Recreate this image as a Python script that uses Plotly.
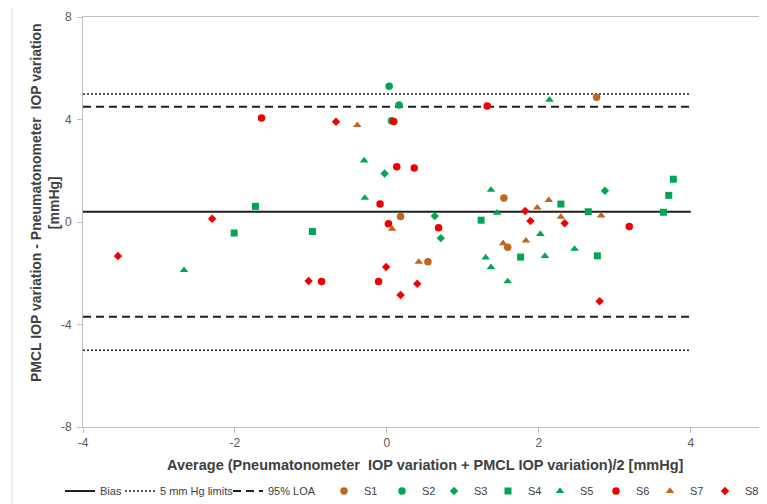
import plotly.graph_objects as go

# ---------------- data ----------------
s1_x = [0.18, 2.76, 1.54, 1.59, 0.54]
s1_y = [0.21, 4.87, 0.94, -0.99, -1.55]

s2_x = [0.03, 0.16, 0.06]
s2_y = [5.30, 4.57, 3.95]

s3_x = [-0.03, 0.63, 0.71, 2.87]
s3_y = [1.89, 0.23, -0.63, 1.22]

s4_x = [-1.73, -2.01, -0.98, 1.24, 2.29, 2.65, 3.64, 3.71, 3.77, 1.76, 2.77]
s4_y = [0.61, -0.43, -0.37, 0.07, 0.70, 0.40, 0.38, 1.04, 1.67, -1.37, -1.32]

s5_x = [-2.67, -0.30, -0.29, 1.37, 1.45, 2.14, 2.02, 1.30, 1.37, 2.08, 2.47, 1.59]
s5_y = [-1.88, 2.40, 0.94, 1.25, 0.36, 4.77, -0.47, -1.39, -1.77, -1.33, -1.05, -2.32]

s6_x = [-1.65, 0.09, 1.32, 0.13, 0.36, -0.09, 0.02, 0.68, 3.19, -0.86, -0.11]
s6_y = [4.06, 3.92, 4.53, 2.16, 2.11, 0.70, -0.07, -0.22, -0.18, -2.32, -2.32]

s7_x = [-0.39, 0.07, 2.13, 1.98, 2.82, 2.29, 1.53, 1.83, 0.42]
s7_y = [3.78, -0.27, 0.85, 0.56, 0.25, 0.20, -0.83, -0.73, -1.56]

s8_x = [-0.67, 1.82, 1.89, 2.34, 2.80, -2.30, -3.54, -1.03, -0.01, 0.40, 0.18]
s8_y = [3.91, 0.43, 0.04, -0.05, -3.09, 0.13, -1.33, -2.30, -1.76, -2.41, -2.85]

bias = 0.4
loa_upper = 4.5
loa_lower = -3.7
limit_upper = 5
limit_lower = -5
line_x = [-4, 4]

x_ticks = [-4, -2, 0, 2, 4]
y_ticks = [-8, -4, 0, 4, 8]

BROWN = "#C0651E"
GREEN = "#00A651"
RED = "#F00000"
INK = "#1F1F1F"
FONT = "Liberation Sans, Arial, sans-serif"

series = [
    ("S1", s1_x, s1_y, "circle", BROWN, 7.5),
    ("S2", s2_x, s2_y, "circle", GREEN, 7.5),
    ("S3", s3_x, s3_y, "diamond", GREEN, 6.5),
    ("S4", s4_x, s4_y, "square", GREEN, 7),
    ("S5", s5_x, s5_y, "triangle-up", GREEN, 7.5),
    ("S6", s6_x, s6_y, "circle", RED, 7.5),
    ("S7", s7_x, s7_y, "triangle-up", BROWN, 7.5),
    ("S8", s8_x, s8_y, "diamond", RED, 6.5),
]

# page body margin shifts the figure by this many pixels
OFF = 8
W, H = 767, 504
# target plot area in screen pixels
SL, SR, ST, SB = 83, 766, 17, 427
L = SL - OFF
R = W - (SR - OFF)
T = ST - OFF
B = H - (SB - OFF)
PW = W - L - R
PH = H - T - B


def px_x(p):
    """screen x pixel -> paper coordinate"""
    return (p - OFF - L) / PW


def px_y(p):
    """screen y pixel -> paper coordinate"""
    return (H - B - (p - OFF)) / PH


LEG_Y = px_y(491)
# screen left edges of each legend entry
legend_left_px = [60, 120, 228, 324, 382, 434, 488, 540, 596, 650, 705]

fig = go.Figure()

fig.add_trace(go.Scatter(x=line_x, y=[bias, bias], mode="lines", name="Bias",
                         legend="legend", line=dict(color=INK, width=2)))
fig.add_trace(go.Scatter(x=line_x, y=[limit_upper, limit_upper], mode="lines",
                         name="5 mm Hg limits", legend="legend2",
                         line=dict(color=INK, width=1.5, dash="2px,2px")))
fig.add_trace(go.Scatter(x=line_x, y=[limit_lower, limit_lower], mode="lines",
                         name="5 mm Hg limits", showlegend=False, legend="legend2",
                         line=dict(color=INK, width=1.5, dash="2px,2px")))
fig.add_trace(go.Scatter(x=line_x, y=[loa_upper, loa_upper], mode="lines",
                         name="95% LOA", legend="legend3",
                         line=dict(color=INK, width=2, dash="8px,5px")))
fig.add_trace(go.Scatter(x=line_x, y=[loa_lower, loa_lower], mode="lines",
                         name="95% LOA", showlegend=False, legend="legend3",
                         line=dict(color=INK, width=2, dash="8px,5px")))

for i, (name, xs, ys, sym, col, sz) in enumerate(series):
    fig.add_trace(go.Scatter(x=xs, y=ys, mode="markers", name=name,
                             legend="legend%d" % (i + 4),
                             marker=dict(symbol=sym, color=col, size=sz,
                                         line=dict(width=0))))

legend_layouts = {}
for i, lp in enumerate(legend_left_px):
    key = "legend" if i == 0 else "legend%d" % (i + 1)
    legend_layouts[key] = dict(orientation="h", x=px_x(lp), xanchor="left",
                               y=LEG_Y, yanchor="middle",
                               font=dict(size=11, color="#404040", family=FONT),
                               itemwidth=30, bgcolor="rgba(0,0,0,0)", borderwidth=0)

fig.update_layout(
    width=W, height=H,
    margin=dict(l=L, r=R, t=T, b=B, autoexpand=False),
    paper_bgcolor="white", plot_bgcolor="white",
    font=dict(family=FONT, size=12, color="#595959"),
    showlegend=True,
    hovermode=False,
    xaxis=dict(range=[-4, 4.99], tickvals=x_ticks, ticktext=[str(v) for v in x_ticks],
               showgrid=False, zeroline=False, showline=True, linecolor="#BFBFBF",
               linewidth=1, mirror=True, ticks="outside", ticklen=5, tickcolor="#BFBFBF",
               tickfont=dict(size=12, color="#595959")),
    yaxis=dict(range=[-8, 8], tickvals=y_ticks, ticktext=[str(v) for v in y_ticks],
               showgrid=False, zeroline=False, showline=True, linecolor="#BFBFBF",
               linewidth=1, ticks="outside", ticklen=5, tickcolor="#BFBFBF",
               ticklabelstandoff=3,
               tickfont=dict(size=12, color="#595959")),
    annotations=[
        dict(text="<b>Average (Pneumatonometer  IOP variation + PMCL IOP variation)/2 [mmHg]</b>",
             xref="paper", yref="paper", x=px_x(425), y=px_y(465),
             xanchor="center", yanchor="middle", showarrow=False,
             font=dict(size=14.5, color="#404040", family=FONT)),
        dict(text="<b>PMCL IOP variation - Pneumatonometer  IOP variation<br>[mmHg]</b>",
             xref="paper", yref="paper", x=px_x(45), y=px_y(203),
             xanchor="center", yanchor="middle", showarrow=False, textangle=-90,
             font=dict(size=14, color="#404040", family=FONT)),
    ],
    shapes=[
        dict(type="rect", xref="paper", yref="paper",
             x0=px_x(12), x1=px_x(765), y0=px_y(530), y1=px_y(7),
             line=dict(color="#D9D9D9", width=1), fillcolor="rgba(0,0,0,0)", layer="below"),
    ],
    **legend_layouts,
)

fig.write_html("out.html")
